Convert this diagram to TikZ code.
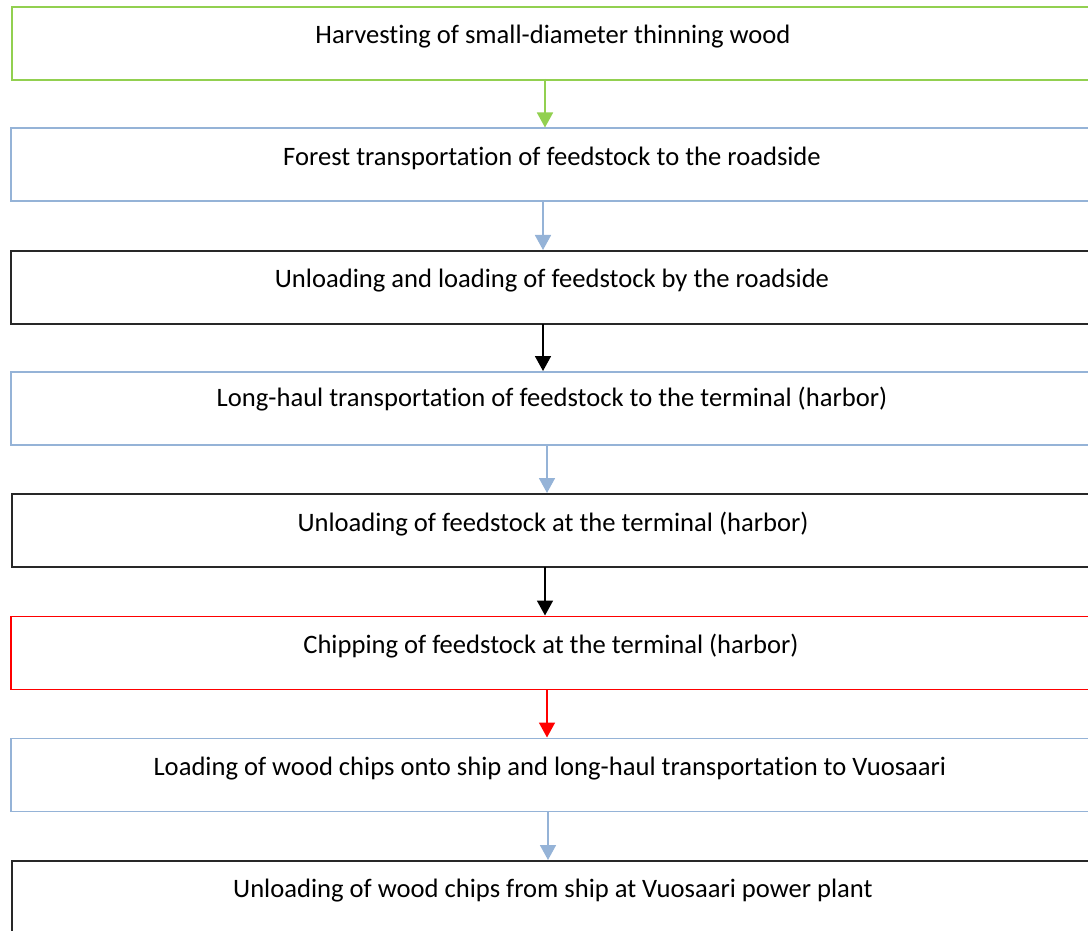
\documentclass[tikz,border=0pt]{standalone}
\usepackage{fontspec}
\setmainfont[Ligatures=NoCommon]{Carlito}
\usetikzlibrary{arrows.meta}
\definecolor{stepgreen}{RGB}{146,208,80}
\definecolor{stepblue}{RGB}{149,179,215}
\definecolor{stepred}{RGB}{255,0,0}
\definecolor{stepblack}{RGB}{40,40,40}
\begin{document}
\begin{tikzpicture}[x=1pt,y=-1pt,
  stagebox/.style={draw, line width=1.9pt, fill=white, minimum width=1085pt, minimum height=73pt,
    anchor=north west, inner sep=0pt},
  stagetext/.style={font=\fontsize{26.6}{30}\selectfont, anchor=center},
  flow/.style={line width=1.7pt, -{Triangle[length=15pt,width=16pt]}}]
\useasboundingbox (0,0) rectangle (1088,931);
\begin{scope}
\clip (0,0) rectangle (1088,931);
% process stages, top to bottom
\node[stagebox, draw=stepgreen] (s1) at (11,6.5) {};
\node[stagebox, draw=stepblue]  (s2) at (10,127.5) {};
\node[stagebox, draw=stepblack] (s3) at (10,250) {};
\node[stagebox, draw=stepblue]  (s4) at (10,371) {};
\node[stagebox, draw=stepblack] (s5) at (11,493) {};
\node[stagebox, draw=stepred]   (s6) at (10,615.5) {};
\node[stagebox, draw=stepblue]  (s7) at (10,737.5) {};
\node[stagebox, draw=stepblack] (s8) at (11,860) {};
% labels
\node[stagetext] (t1) at (553,37) {Harvesting of small-diameter thinning wood};
\node[stagetext] (t2) at (552,158) {Forest transportation of feedstock to the roadside};
\node[stagetext] (t3) at (552,281) {Unloading and loading of feedstock by the roadside};
\node[stagetext] (t4) at (552,399) {Long-haul transportation of feedstock to the terminal (harbor)};
\node[stagetext] (t5) at (553,524) {Unloading of feedstock at the terminal (harbor)};
\node[stagetext] (t6) at (551,646) {Chipping of feedstock at the terminal (harbor)};
\node[stagetext] (t7) at (550,769) {Loading of wood chips onto ship and long-haul transportation to Vuosaari};
\node[stagetext] (t8) at (553,891) {Unloading of wood chips from ship at Vuosaari power plant};
% connectors
\coordinate (a1) at (545,79);   \coordinate (b1) at (545,127.5);
\coordinate (a2) at (543,201);  \coordinate (b2) at (543,250);
\coordinate (a3) at (543,324);  \coordinate (b3) at (543,371);
\coordinate (a4) at (547,444);  \coordinate (b4) at (547,493);
\coordinate (a5) at (545,567);  \coordinate (b5) at (545,615.5);
\coordinate (a6) at (547,689);  \coordinate (b6) at (547,737.5);
\coordinate (a7) at (548,812);  \coordinate (b7) at (548,860);
\draw[flow, stepgreen] (a1) -- (b1);
\draw[flow, stepblue]  (a2) -- (b2);
\draw[flow, black]     (a3) -- (b3);
\draw[flow, stepblue]  (a4) -- (b4);
\draw[flow, black]     (a5) -- (b5);
\draw[flow, stepred]   (a6) -- (b6);
\draw[flow, stepblue]  (a7) -- (b7);
\end{scope}
\end{tikzpicture}
\end{document}
